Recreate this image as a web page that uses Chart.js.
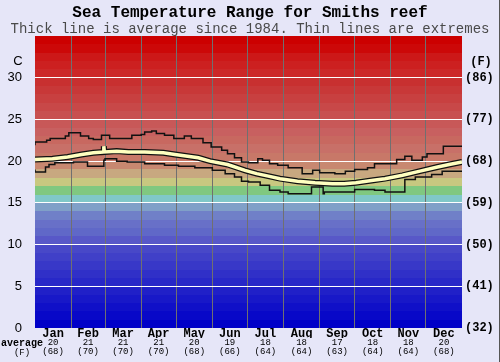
<!DOCTYPE html>
<html><head><meta charset="utf-8">
<script src="https://cdn.jsdelivr.net/npm/chart.js@4/dist/chart.umd.min.js"></script>
<style>
html,body{margin:0;padding:0;background:#e6e6f8;}
#wrap{position:relative;width:500px;height:362px;}
canvas{display:block;}
</style></head><body>
<div id="wrap"><canvas id="c" width="500" height="362"></canvas></div>
<script>
// ---- data ----
const months = ['Jan','Feb','Mar','Apr','May','Jun','Jul','Aug','Sep','Oct','Nov','Dec'];
const monthStartDays = [0,31,60,91,121,152,182,213,244,274,305,335,366];
const avgC = [20,21,21,21,20,19,18,18,17,18,18,20];
const avgF = [68,70,70,70,68,66,64,64,63,64,64,68];
const yTicksC = [0,5,10,15,20,25,30];
const yTicksF = [32,41,50,59,68,77,86];

const maxDays = [0,10,13,26,29,39,46,50,57,64,83,91,94,100,104,111,119,128,134,144,151,160,165,171,177,183,191,195,201,208,217,229,238,244,257,266,274,285,291,310,317,323,332,336,350,357,366];
const maxVals = [21.9,22.3,22.5,22.7,23.0,23.4,23.0,22.7,22.6,23.1,22.7,23.1,23.2,23.5,23.6,23.3,23.1,22.7,23.0,22.7,22.2,21.7,21.3,20.9,20.4,19.9,19.8,20.3,20.1,19.7,19.5,19.2,18.5,18.9,18.6,18.5,18.8,19.0,19.2,19.7,20.2,20.6,20.1,20.5,20.9,21.8,21.8];

const minDays = [0,9,12,17,33,45,59,60,70,79,94,111,123,137,152,163,171,177,183,193,201,210,217,237,247,248,266,274,291,300,317,326,340,349,357,366];
const minVals = [19.0,18.7,19.3,19.6,19.8,19.9,19.4,20.1,20.3,20.0,19.9,19.7,19.5,19.4,19.2,18.9,18.5,18.1,17.6,17.5,17.1,16.5,16.3,16.1,16.9,16.1,16.3,16.3,16.6,16.5,16.3,17.8,18.1,18.4,18.8,18.8];

const avgDays = [0,15,28,40,50,58.6,59,59.4,70,80,94,110,120,140,150,165,180,190,200,210,225,240,255,265,275,290,300,315,330,345,355,366];
const avgVals = [20.2,20.3,20.5,20.8,21.0,21.1,21.8,21.1,21.2,21.1,21.1,21.0,20.8,20.4,20.0,19.6,18.9,18.5,18.2,17.9,17.6,17.4,17.3,17.3,17.4,17.7,17.9,18.3,18.8,19.3,19.6,19.9];

// ---- styles ----
const bandColors = [
 [0,0,200],[8,8,200],[16,16,200],[24,24,200],[32,32,200],
 [40,40,200],[48,48,200],[56,56,200],[64,64,200],[72,72,200],
 [88,88,200],[96,104,200],[104,112,200],[112,128,200],[128,160,200],
 [128,200,200],[128,200,128],[200,200,128],[200,168,128],[200,136,112],
 [200,120,104],[200,112,104],[200,104,96],[200,96,96],[200,88,88],
 [200,80,80],[200,72,72],[200,64,64],[200,56,56],[200,48,48],
 [204,40,40],[204,32,32],[204,24,24],[204,8,8],[204,0,0]
];

const toPts = (xs, ys) => xs.map((d,i)=>({x:d, y:ys[i]}));
const monthCenters = months.map((m,i)=>(monthStartDays[i]+monthStartDays[i+1])/2);

const bandPlugin = {
  id:'bands',
  beforeDraw(chart){
    const {ctx, chartArea:a, scales:{y}} = chart;
    ctx.save();
    bandColors.forEach((c,i)=>{
      const top = Math.round(y.getPixelForValue(i+1));
      const bot = Math.round(y.getPixelForValue(i));
      ctx.fillStyle = `rgb(${c[0]},${c[1]},${c[2]})`;
      ctx.fillRect(a.left, top, a.right-a.left, bot-top);
    });
    ctx.restore();
  },
  afterDraw(chart){
    const ctx = chart.ctx;
    ctx.save();
    ctx.fillStyle = '#000';
    ctx.textBaseline = 'middle';
    ctx.textAlign = 'center';
    ctx.font = '13px "Liberation Sans", Arial, sans-serif';
    ctx.fillText('C', 18, 61);
    ctx.font = 'bold 12px "Liberation Mono", monospace';
    ctx.fillText('(F)', 481, 62);
    ctx.font = 'bold 10px "Liberation Mono", monospace';
    ctx.fillText('average', 22, 343);
    ctx.font = '9px "Liberation Mono", monospace';
    ctx.fillText('(F)', 22, 352.5);
    ctx.strokeStyle = '#555';
    ctx.lineWidth = 1;
    ctx.beginPath(); ctx.moveTo(499.5,0); ctx.lineTo(499.5,362); ctx.stroke();
    ctx.restore();
  }
};

const bottomAxis = (weight, height, font, labels) => ({
  type:'linear', position:'bottom', min:0, max:366, weight,
  grid:{display:false, drawTicks:false}, border:{display:false},
  afterBuildTicks(s){ s.ticks = monthCenters.map(v=>({value:v})); },
  afterFit(s){ s.height = height; },
  ticks:{ autoSkip:false, maxRotation:0, padding:0, color:'#000', font,
    callback:(v,i)=>labels[i] }
});

new Chart(document.getElementById('c'), {
  type:'line',
  data:{ datasets:[
    { data: toPts(avgDays, avgVals), borderColor:'#ffffc0', borderWidth:3.5, pointRadius:0, order:0, tension:0 },
    { data: toPts(avgDays, avgVals), borderColor:'#111', borderWidth:6, pointRadius:0, order:1, tension:0 },
    { data: toPts(maxDays, maxVals), borderColor:'#111', borderWidth:1.5, pointRadius:0, stepped:'after', order:2 },
    { data: toPts(minDays, minVals), borderColor:'#111', borderWidth:1.5, pointRadius:0, stepped:'after', order:2 }
  ]},
  options:{
    responsive:false, animation:false, devicePixelRatio:1,
    layout:{ padding:{top:0,left:0,right:0,bottom:0} },
    plugins:{
      legend:{display:false}, tooltip:{enabled:false},
      title:{ display:true, text:'Sea Temperature Range for Smiths reef', color:'#000',
        font:{family:'"Liberation Mono", monospace', size:16, weight:'bold', lineHeight:1}, padding:{top:5,bottom:0} },
      subtitle:{ display:true, text:'Thick line is average since 1984. Thin lines are extremes', color:'#4a4a4a',
        font:{family:'"Liberation Mono", monospace', size:14, weight:'normal', lineHeight:1}, padding:{top:1,bottom:0} }
    },
    scales:{
      x:{ type:'linear', position:'bottom', min:0, max:366, weight:0,
        grid:{ display:true, drawTicks:false, color:(c)=> (c.tick && (c.tick.value===0||c.tick.value===366)) ? 'rgba(0,0,0,0)' : '#707070', lineWidth:1 },
        border:{display:false},
        afterBuildTicks(s){ s.ticks = monthStartDays.map(v=>({value:v})); },
        afterFit(s){ s.height = 0; },
        ticks:{ display:false }
      },
      xm: bottomAxis(1, 10, {family:'"Liberation Mono", monospace', size:12, weight:'bold', lineHeight:1}, months),
      xc: bottomAxis(2, 9, {family:'"Liberation Mono", monospace', size:9, lineHeight:1}, avgC.map(String)),
      xf: bottomAxis(3, 15, {family:'"Liberation Mono", monospace', size:9, lineHeight:1}, avgF.map(v=>'('+v+')')),
      y:{ type:'linear', position:'left', min:0, max:35,
        grid:{ drawTicks:false, color:(c)=> (c.tick && c.tick.value>0 && c.tick.value<35) ? '#ffffff' : 'rgba(0,0,0,0)', lineWidth:1 },
        border:{display:false},
        afterBuildTicks(s){ s.ticks = yTicksC.map(v=>({value:v})); },
        afterFit(s){ s.width = 35; },
        ticks:{ padding:13, color:'#000', font:{family:'"Liberation Sans", Arial, sans-serif', size:13},
          callback:(v,i)=>String(yTicksC[i]) }
      },
      y2:{ type:'linear', position:'right', min:0, max:35,
        grid:{ display:false, drawTicks:false }, border:{display:false},
        afterBuildTicks(s){ s.ticks = yTicksC.map(v=>({value:v})); },
        afterFit(s){ s.width = 38; },
        ticks:{ padding:3, color:'#000', font:{family:'"Liberation Mono", monospace', size:12, weight:'bold'},
          callback:(v,i)=>'('+yTicksF[i]+')' }
      }
    }
  },
  plugins:[bandPlugin]
});
</script>
</body></html>
